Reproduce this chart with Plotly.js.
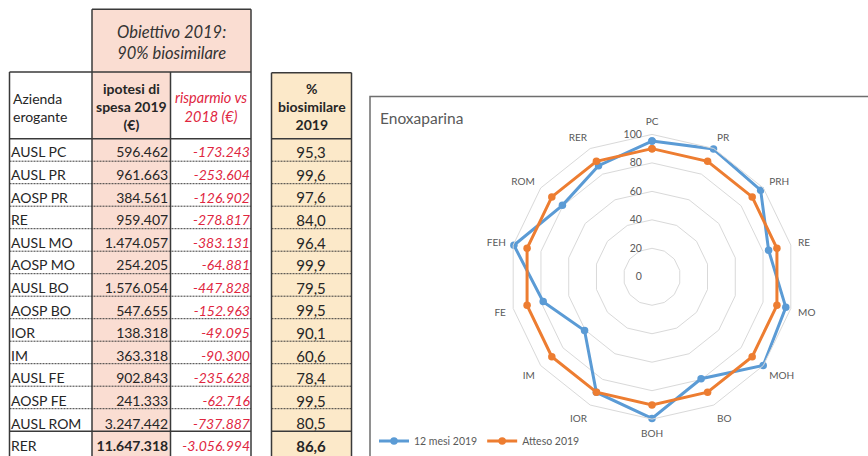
<!DOCTYPE html>
<html><head><meta charset="utf-8">
<script src="https://cdn.plot.ly/plotly-3.0.1.min.js"></script>
<style>html,body{margin:0;padding:0;background:#fff}#chart{width:868px;height:456px}</style>
</head><body><div id="chart"></div>
<script>
// ---------- data ----------
const aziende = ['AUSL PC','AUSL PR','AOSP PR','RE','AUSL MO','AOSP MO','AUSL BO','AOSP BO','IOR','IM','AUSL FE','AOSP FE','AUSL ROM','RER'];
const spesa2019 = [596462, 961663, 384561, 959407, 1474057, 254205, 1576054, 547655, 138318, 363318, 902843, 241333, 3247442, 11647318];
const risparmioVs2018 = [-173243, -253604, -126902, -278817, -383131, -64881, -447828, -152963, -49095, -90300, -235628, -62716, -737887, -3056994];
const biosimilare2019 = [95.3, 99.6, 97.6, 84.0, 96.4, 99.9, 79.5, 99.5, 90.1, 60.6, 78.4, 99.5, 80.5, 86.6];
const headerLabels = ['Azienda<br>erogante', '<b>ipotesi di<br>spesa 2019<br>(€)</b>', '<i>risparmio vs<br>2018 (€)</i>', '<b>%<br>biosimilare<br>2019</b>'];
const obiettivoLabel = '<i>Obiettivo 2019:<br>90% biosimilare</i>';

const radarTitle = 'Enoxaparina';
const radarCategories = ['PC','PR','PRH','RE','MO','MOH','BO','BOH','IOR','IM','FE','FEH','ROM','RER'];
const mesi12_2019 = [95.3, 99.6, 97.6, 84.0, 96.4, 99.9, 79.5, 99.5, 90.1, 60.6, 78.4, 99.5, 80.5, 86.6];
const atteso2019 = [90, 90, 90, 90, 90, 90, 90, 90, 90, 90, 90, 90, 90, 90];
const seriesNames = ['12 mesi 2019', 'Atteso 2019'];
const radialTicks = [0, 20, 40, 60, 80, 100];

// ---------- helpers ----------
const W = 868, H = 456;
const X = p => p / W;
const Y = p => 1 - p / H;
const F = 'Lato, "Liberation Sans", sans-serif';
const DARK = '#262626', RED = '#E0263F', GREY = '#595959';
const PEACH = '#FADDD2', GOLD = '#FCE9C9', BORDER = '#3a3a3a';
const fmtIt = n => (n < 0 ? '-' : '') + String(Math.abs(n)).replace(/\B(?=(\d{3})+(?!\d))/g, '.');
const pct = v => v.toFixed(1).replace('.', ',');
const nb = s => s.replace(/ /g, '\u00a0');
const last = aziende.length - 1;
const wBold = aziende.map((_, i) => i === last ? 700 : 400);
const wNorm = aziende.map(() => 400);

// table geometry (px)
const tTop = 72.3, hdrH = 67, rowH = 22.6;
const hdrBottom = tTop + hdrH;
const c0 = 9.5, c1 = 92, c2 = 170.5, c3 = 251, c4 = 271.5, c5 = 351.5;

const traces = [];
traces.push({
  type: 'table',
  domain: {x: [X(3), X(258.5)], y: [0, Y(tTop)]},
  columnwidth: [89, 84.5, 82],
  header: {values: ['', '', ''], height: hdrH, fill: {color: 'rgba(0,0,0,0)'}, line: {width: 0, color: 'rgba(0,0,0,0)'}},
  cells: {
    values: [aziende.map(nb), spesa2019.map(fmtIt), risparmioVs2018.map(fmtIt)],
    height: rowH,
    align: ['left', 'right', 'right'],
    fill: {color: 'rgba(0,0,0,0)'},
    line: {width: 0, color: 'rgba(0,0,0,0)'},
    font: {family: F, size: 14, color: [DARK, DARK, RED], style: ['normal', 'normal', 'italic'], weight: [wNorm, wBold, wNorm]}
  }
});
traces.push({
  type: 'table',
  domain: {x: [X(c4), X(c5)], y: [0, Y(tTop)]},
  columnwidth: [80],
  header: {values: [''], height: hdrH, fill: {color: 'rgba(0,0,0,0)'}, line: {width: 0, color: 'rgba(0,0,0,0)'}},
  cells: {
    values: [biosimilare2019.map(pct)],
    height: rowH,
    align: ['center'],
    fill: {color: 'rgba(0,0,0,0)'},
    line: {width: 0, color: 'rgba(0,0,0,0)'},
    font: {family: F, size: 15, color: DARK, weight: [wBold]}
  }
});

const colors = ['#5B9BD5', '#ED7D31'];
[mesi12_2019, atteso2019].forEach((vals, k) => {
  traces.push({
    type: 'scatterpolar',
    subplot: 'polar',
    r: vals.concat([vals[0]]),
    theta: radarCategories.concat([radarCategories[0]]),
    mode: 'lines+markers',
    name: seriesNames[k],
    line: {color: colors[k], width: 3},
    marker: {color: colors[k], size: 7.5},
    hoverinfo: 'skip'
  });
});

// ---------- shapes ----------
const shapes = [];
const rect = (x0, y0, x1, y1, fill, line, layer) => ({type: 'rect', xref: 'paper', yref: 'paper', x0: X(x0), x1: X(x1), y0: Y(y1), y1: Y(y0), fillcolor: fill, line: line, layer: layer});
const hline = (x0, x1, y, w, dash) => ({type: 'line', xref: 'paper', yref: 'paper', x0: X(x0), x1: X(x1), y0: Y(y), y1: Y(y), line: {color: BORDER, width: w, dash: dash || 'solid'}});
const vline = (x, y0, y1, w) => ({type: 'line', xref: 'paper', yref: 'paper', x0: X(x), x1: X(x), y0: Y(y0), y1: Y(y1), line: {color: BORDER, width: w}});

shapes.push(rect(c1, 9.3, c3, tTop, PEACH, {width: 0}, 'below'));
shapes.push(rect(c1, tTop, c2, 470, PEACH, {width: 0}, 'below'));
shapes.push(rect(c4, 73, c5, 470, GOLD, {width: 0}, 'below'));
// borders
shapes.push(hline(c1, c3, 9.3, 1.5));
shapes.push(hline(c0, c3, tTop, 1.5));
shapes.push(hline(c4, c5, 73, 1.5));
[[c0, c3], [c4, c5]].forEach(([a, b]) => {
  shapes.push(hline(a, b, hdrBottom, 1.5));
  for (let k = 1; k < aziende.length; k++) {
    const y = hdrBottom + k * rowH;
    shapes.push(k === last ? hline(a, b, y, 1.5) : hline(a, b, y, 1, '2px,1px'));
  }
});
shapes.push(vline(c0, tTop, 470, 1.5));
shapes.push(vline(c1, 9.3, 470, 1.5));
shapes.push(vline(c2, tTop, 470, 1.5));
shapes.push(vline(c3, 9.3, 470, 1.5));
shapes.push(vline(c4, 73, 470, 1.5));
shapes.push(vline(c5, 73, 470, 1.5));
// chart box
shapes.push(rect(370, 97, 900, 480, 'rgba(0,0,0,0)', {color: '#6e6e6e', width: 1.5}, 'below'));

// ---------- annotations (table headers) ----------
const ann = (text, x, y, xanchor, size, color) => ({text: text, xref: 'paper', yref: 'paper', x: X(x), y: Y(y), xanchor: xanchor, yanchor: 'middle', showarrow: false, align: xanchor === 'left' ? 'left' : 'center', font: {family: F, size: size, color: color}});
const annotations = [
  ann(obiettivoLabel, (c1 + c3) / 2, 42.5, 'center', 16.5, '#333333'),
  ann(headerLabels[0], c0 + 1, 107.5, 'left', 14, DARK),
  ann(headerLabels[1], (c1 + c2) / 2, 106.5, 'center', 14, DARK),
  ann(headerLabels[2], (c2 + c3) / 2, 107.5, 'center', 14.5, RED),
  ann(headerLabels[3], (c4 + c5) / 2, 107, 'center', 14, DARK)
];

const layout = {
  width: W, height: H,
  margin: {l: 0, r: 0, t: 0, b: 0},
  paper_bgcolor: '#ffffff',
  font: {family: F, color: GREY},
  title: {text: radarTitle, x: X(380), xanchor: 'left', xref: 'paper', y: Y(119), yanchor: 'middle', font: {family: F, size: 15.5, color: GREY}},
  showlegend: true,
  legend: {orientation: 'h', x: X(374), xanchor: 'left', y: Y(443), yanchor: 'middle', font: {family: F, size: 10.5, color: GREY}, bgcolor: 'rgba(0,0,0,0)'},
  polar: {
    domain: {x: [X(509), X(795)], y: [Y(421), Y(135)]},
    bgcolor: '#ffffff',
    gridshape: 'linear',
    radialaxis: {range: [0, 100], tickvals: radialTicks, angle: 90, side: 'counterclockwise', tickangle: 90, showline: false, gridcolor: '#d9d9d9', gridwidth: 1, ticks: 'outside', ticklen: 6, tickcolor: 'rgba(0,0,0,0)', tickfont: {family: F, size: 10.5, color: GREY}},
    angularaxis: {type: 'category', categoryarray: radarCategories, direction: 'clockwise', rotation: 90, showgrid: false, showline: true, linecolor: '#d9d9d9', linewidth: 1, ticks: 'outside', ticklen: 5, tickcolor: 'rgba(0,0,0,0)', tickfont: {family: F, size: 10, color: GREY}}
  },
  shapes: shapes,
  annotations: annotations
};

Plotly.newPlot('chart', traces, layout, {displayModeBar: false, staticPlot: true});
</script>
</body></html>
